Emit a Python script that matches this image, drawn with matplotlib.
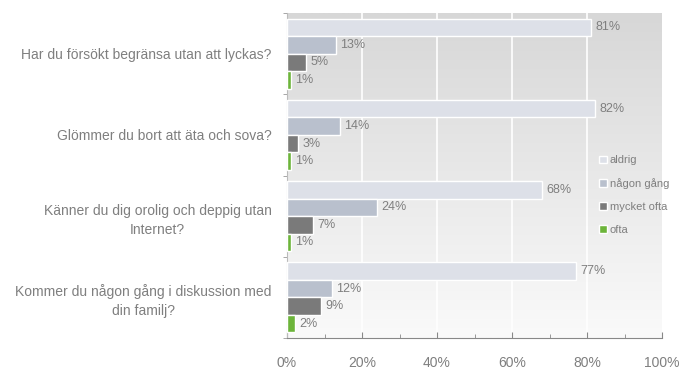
import numpy as np
import matplotlib
matplotlib.use("Agg")
import matplotlib.pyplot as plt
from matplotlib.patches import Patch
from matplotlib.colors import LinearSegmentedColormap

plt.rcParams['font.family'] = ['Liberation Sans', 'DejaVu Sans']

categories = [
    "Har du försökt begränsa utan att lyckas?",
    "Glömmer du bort att äta och sova?",
    "Känner du dig orolig och deppig utan\nInternet?",
    "Kommer du någon gång i diskussion med\ndin familj?",
]
series_names = ["aldrig", "någon gång", "mycket ofta", "ofta"]
aldrig = [81, 82, 68, 77]
nagon_gang = [13, 14, 24, 12]
mycket_ofta = [5, 3, 7, 9]
ofta = [1, 1, 1, 2]
x_ticks = [0, 20, 40, 60, 80, 100]
x_ticklabels = ["0%", "20%", "40%", "60%", "80%", "100%"]

series = [aldrig, nagon_gang, mycket_ofta, ofta]
colors = ["#dde0e8", "#b9c0cd", "#7a7a7a", "#6cb43a"]
text_col = "#7f7f7f"

fig = plt.figure(figsize=(6.81, 3.71), dpi=100)
ax = fig.add_axes([287/681, 33/371, 375/681, 325/371])

# gradient background
grad = np.linspace(0, 1, 256).reshape(-1, 1)
cmap = LinearSegmentedColormap.from_list("bg", ["#d7d7d7", "#fafafa"])
ax.imshow(grad, extent=[0, 100, 3.5, -0.5], aspect='auto', cmap=cmap, zorder=0)

h = 0.215
y = np.arange(len(categories))
for i, (vals, c) in enumerate(zip(series, colors)):
    pos = y - 1.5*h + i*h
    ax.barh(pos, vals, height=h, color=c, edgecolor="white", linewidth=1.0, zorder=3)
    for p, v in zip(pos, vals):
        ax.text(v + 1.2, p, f"{v}%", va="center", ha="left", fontsize=9, color=text_col, zorder=4)

ax.set_xlim(0, 100)
ax.set_ylim(3.5, -0.5)
for gx in [20, 40, 60, 80]:
    ax.axvline(gx, color="white", linewidth=1.2, zorder=1)

ax.set_xticks(x_ticks)
ax.set_xticklabels(x_ticklabels)
ax.set_xticks([10, 30, 50, 70, 90], minor=True)
ax.tick_params(axis='x', which='major', direction='in', length=4, color="#888888",
               labelsize=10, labelcolor=text_col, pad=13)
ax.tick_params(axis='x', which='minor', direction='in', length=3, color="#888888")

ax.set_yticks(y)
ax.set_yticklabels(categories, multialignment='center', linespacing=1.45)
ax.set_yticks([-0.5, 0.5, 1.5, 2.5, 3.5], minor=True)
ax.tick_params(axis='y', which='major', length=0, labelsize=10, labelcolor=text_col, pad=11)
ax.tick_params(axis='y', which='minor', direction='out', length=3, color="#999999")

for s in ['top', 'right']:
    ax.spines[s].set_visible(False)
ax.spines['left'].set_color("#bbbbbb")
ax.spines['bottom'].set_color("#888888")

handles = [Patch(facecolor=c, edgecolor="white", label=n) for n, c in zip(series_names, colors)]
leg = ax.legend(handles=handles, loc='center left', bbox_to_anchor=(0.805, 0.44), frameon=False,
                fontsize=8, handlelength=0.7, handleheight=0.7, handletextpad=0.3,
                labelspacing=1.15, labelcolor=text_col)
leg.set_zorder(5)

fig.savefig("out.png", dpi=100)
